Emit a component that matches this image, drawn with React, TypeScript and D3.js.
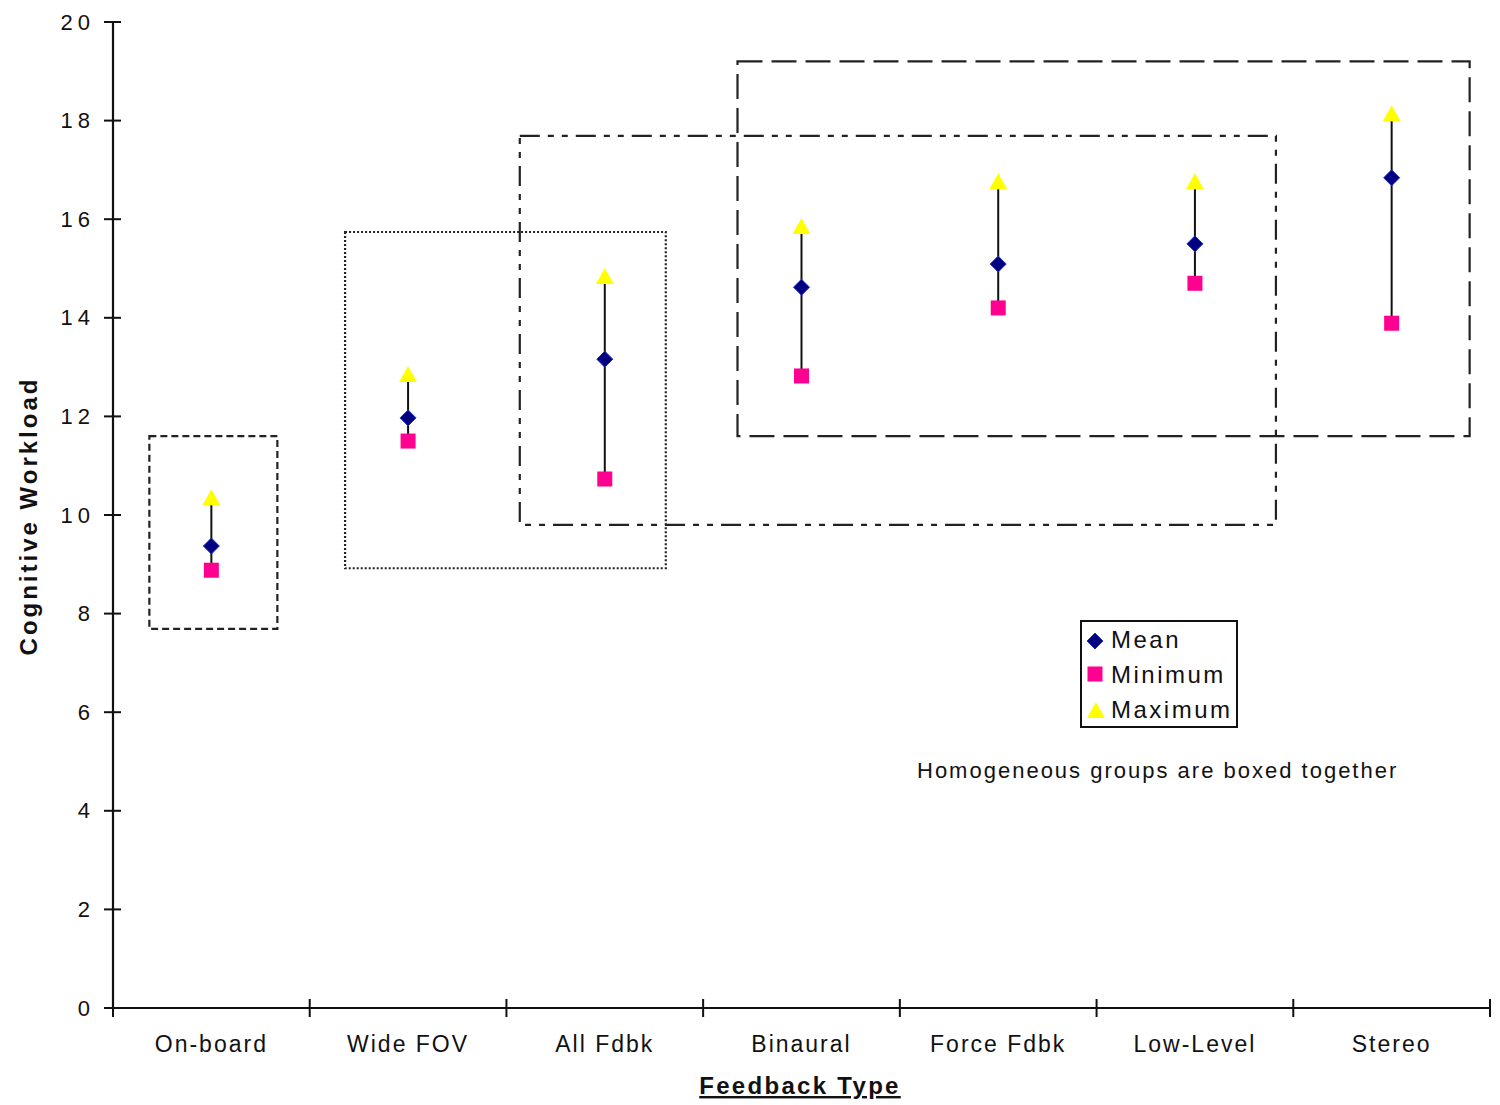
import React from "react";
import * as d3 from "d3";

const categories = ["On-board", "Wide FOV", "All Fdbk", "Binaural", "Force Fdbk", "Low-Level", "Stereo"];
const meanValues = [9.37, 11.97, 13.16, 14.62, 15.09, 15.5, 16.84];
const minValues = [8.88, 11.5, 10.73, 12.82, 14.2, 14.7, 13.89];
const maxValues = [10.34, 12.84, 14.83, 15.84, 16.75, 16.75, 18.13];
const yTicks = [0, 2, 4, 6, 8, 10, 12, 14, 16, 18, 20];

// homogeneous groups: first & last category index, top & bottom values
const groupFirst = [0, 1, 2, 3];
const groupLast = [0, 2, 5, 6];
const groupTop = [11.6, 15.74, 17.69, 19.2];
const groupBottom = [7.69, 8.92, 9.8, 11.6];
const groupPadLeft = [62, 63, 85, 64];
const groupPadRight = [66, 61, 81, 78];
const groupDash = ["7 4", "2 2", "20 8 6 8 6 8", "25 9"];

const legendLabels = ["Mean", "Minimum", "Maximum"];

const W = 1500;
const H = 1105;
const FONT = "'Liberation Sans', Arial, sans-serif";

const MEAN_COLOR = "#000080";
const MIN_COLOR = "#ff0090";
const MAX_COLOR = "#ffff00";

function Diamond({ cx, cy }: { cx: number; cy: number }) {
  const s = 8;
  return (
    <path
      d={`M${cx},${cy - s}L${cx + s},${cy}L${cx},${cy + s}L${cx - s},${cy}Z`}
      fill={MEAN_COLOR}
      stroke="#2030c0"
      strokeWidth={1}
    />
  );
}
function Square({ cx, cy }: { cx: number; cy: number }) {
  const s = 7.5;
  return <rect x={cx - s} y={cy - s} width={2 * s} height={2 * s} fill={MIN_COLOR} />;
}
function Triangle({ cx, cy }: { cx: number; cy: number }) {
  return (
    <path
      d={`M${cx},${cy - 9}L${cx + 9},${cy + 7}L${cx - 9},${cy + 7}Z`}
      fill={MAX_COLOR}
    />
  );
}

export default function App() {
  const x = d3.scaleBand<string>().domain(categories).range([113, 1490]).padding(0);
  const y = d3.scaleLinear().domain([0, 20]).range([1008, 22]);
  const bw = x.bandwidth();
  const cx = (i: number) => (x(categories[i]) as number) + bw / 2;
  const axisColor = "#111";

  return (
    <svg
      width={W}
      height={H}
      style={{ position: "absolute", left: 0, top: 0, background: "#fff" }}
      fontFamily={FONT}
    >
      <rect width={W} height={H} fill="#fff" />
      {/* group boxes */}
      {groupFirst.map((f, i) => {
        const x0 = cx(f) - groupPadLeft[i];
        const x1 = cx(groupLast[i]) + groupPadRight[i];
        const y0 = y(groupTop[i]);
        const y1 = y(groupBottom[i]);
        return (
          <rect
            key={"g" + i}
            x={x0}
            y={y0}
            width={x1 - x0}
            height={y1 - y0}
            fill="none"
            stroke="#222"
            strokeWidth={2.2}
            strokeDasharray={groupDash[i]}
          />
        );
      })}

      {/* y axis */}
      <line x1={113} x2={113} y1={y(20)} y2={y(0)} stroke={axisColor} strokeWidth={2.2} />
      {yTicks.map((t) => (
        <g key={"yt" + t}>
          <line x1={104} x2={121} y1={y(t)} y2={y(t)} stroke={axisColor} strokeWidth={2} />
          <text
            x={95}
            y={y(t)}
            textAnchor="end"
            dominantBaseline="central"
            fontSize={22}
            letterSpacing={5}
            fill="#111"
          >
            {t}
          </text>
        </g>
      ))}

      {/* x axis */}
      <line x1={113} x2={1490} y1={y(0)} y2={y(0)} stroke={axisColor} strokeWidth={2.2} />
      {[...categories.map((c) => x(c) as number), 1490].map((px, i) => (
        <line key={"xt" + i} x1={px} x2={px} y1={y(0) - 9} y2={y(0) + 9} stroke={axisColor} strokeWidth={2} />
      ))}
      {categories.map((c, i) => (
        <text
          key={"xl" + i}
          x={cx(i)}
          y={1052}
          textAnchor="middle"
          fontSize={23}
          letterSpacing={2}
          fill="#111"
        >
          {c}
        </text>
      ))}

      {/* axis titles */}
      <text
        transform={`translate(37,516) rotate(-90)`}
        textAnchor="middle"
        fontSize={24}
        fontWeight="bold"
        letterSpacing={3}
        fill="#111"
      >
        Cognitive Workload
      </text>
      <text
        x={800}
        y={1094}
        textAnchor="middle"
        fontSize={24}
        fontWeight="bold"
        letterSpacing={2.3}
        textDecoration="underline"
        fill="#111"
      >
        Feedback Type
      </text>

      {/* range lines and markers */}
      {categories.map((c, i) => (
        <g key={"d" + i}>
          <line
            x1={cx(i)}
            x2={cx(i)}
            y1={y(maxValues[i])}
            y2={y(minValues[i])}
            stroke="#111"
            strokeWidth={2}
          />
          <Square cx={cx(i)} cy={y(minValues[i])} />
          <Triangle cx={cx(i)} cy={y(maxValues[i])} />
          <Diamond cx={cx(i)} cy={y(meanValues[i])} />
        </g>
      ))}

      {/* legend */}
      <rect x={1081} y={621} width={156} height={106} fill="#fff" stroke="#111" strokeWidth={2} />
      {legendLabels.map((l, i) => {
        const ly = 639 + i * 35;
        return (
          <g key={"lg" + i}>
            {i === 0 && <Diamond cx={1095} cy={ly + 2} />}
            {i === 1 && <Square cx={1095} cy={ly} />}
            {i === 2 && <Triangle cx={1096} cy={ly + 2} />}
            <text x={1111} y={ly} dominantBaseline="central" fontSize={24} letterSpacing={2.5} fill="#111">
              {l}
            </text>
          </g>
        );
      })}
      <text x={917} y={770} dominantBaseline="central" fontSize={22} letterSpacing={2} fill="#111">
        Homogeneous groups are boxed together
      </text>
    </svg>
  );
}
